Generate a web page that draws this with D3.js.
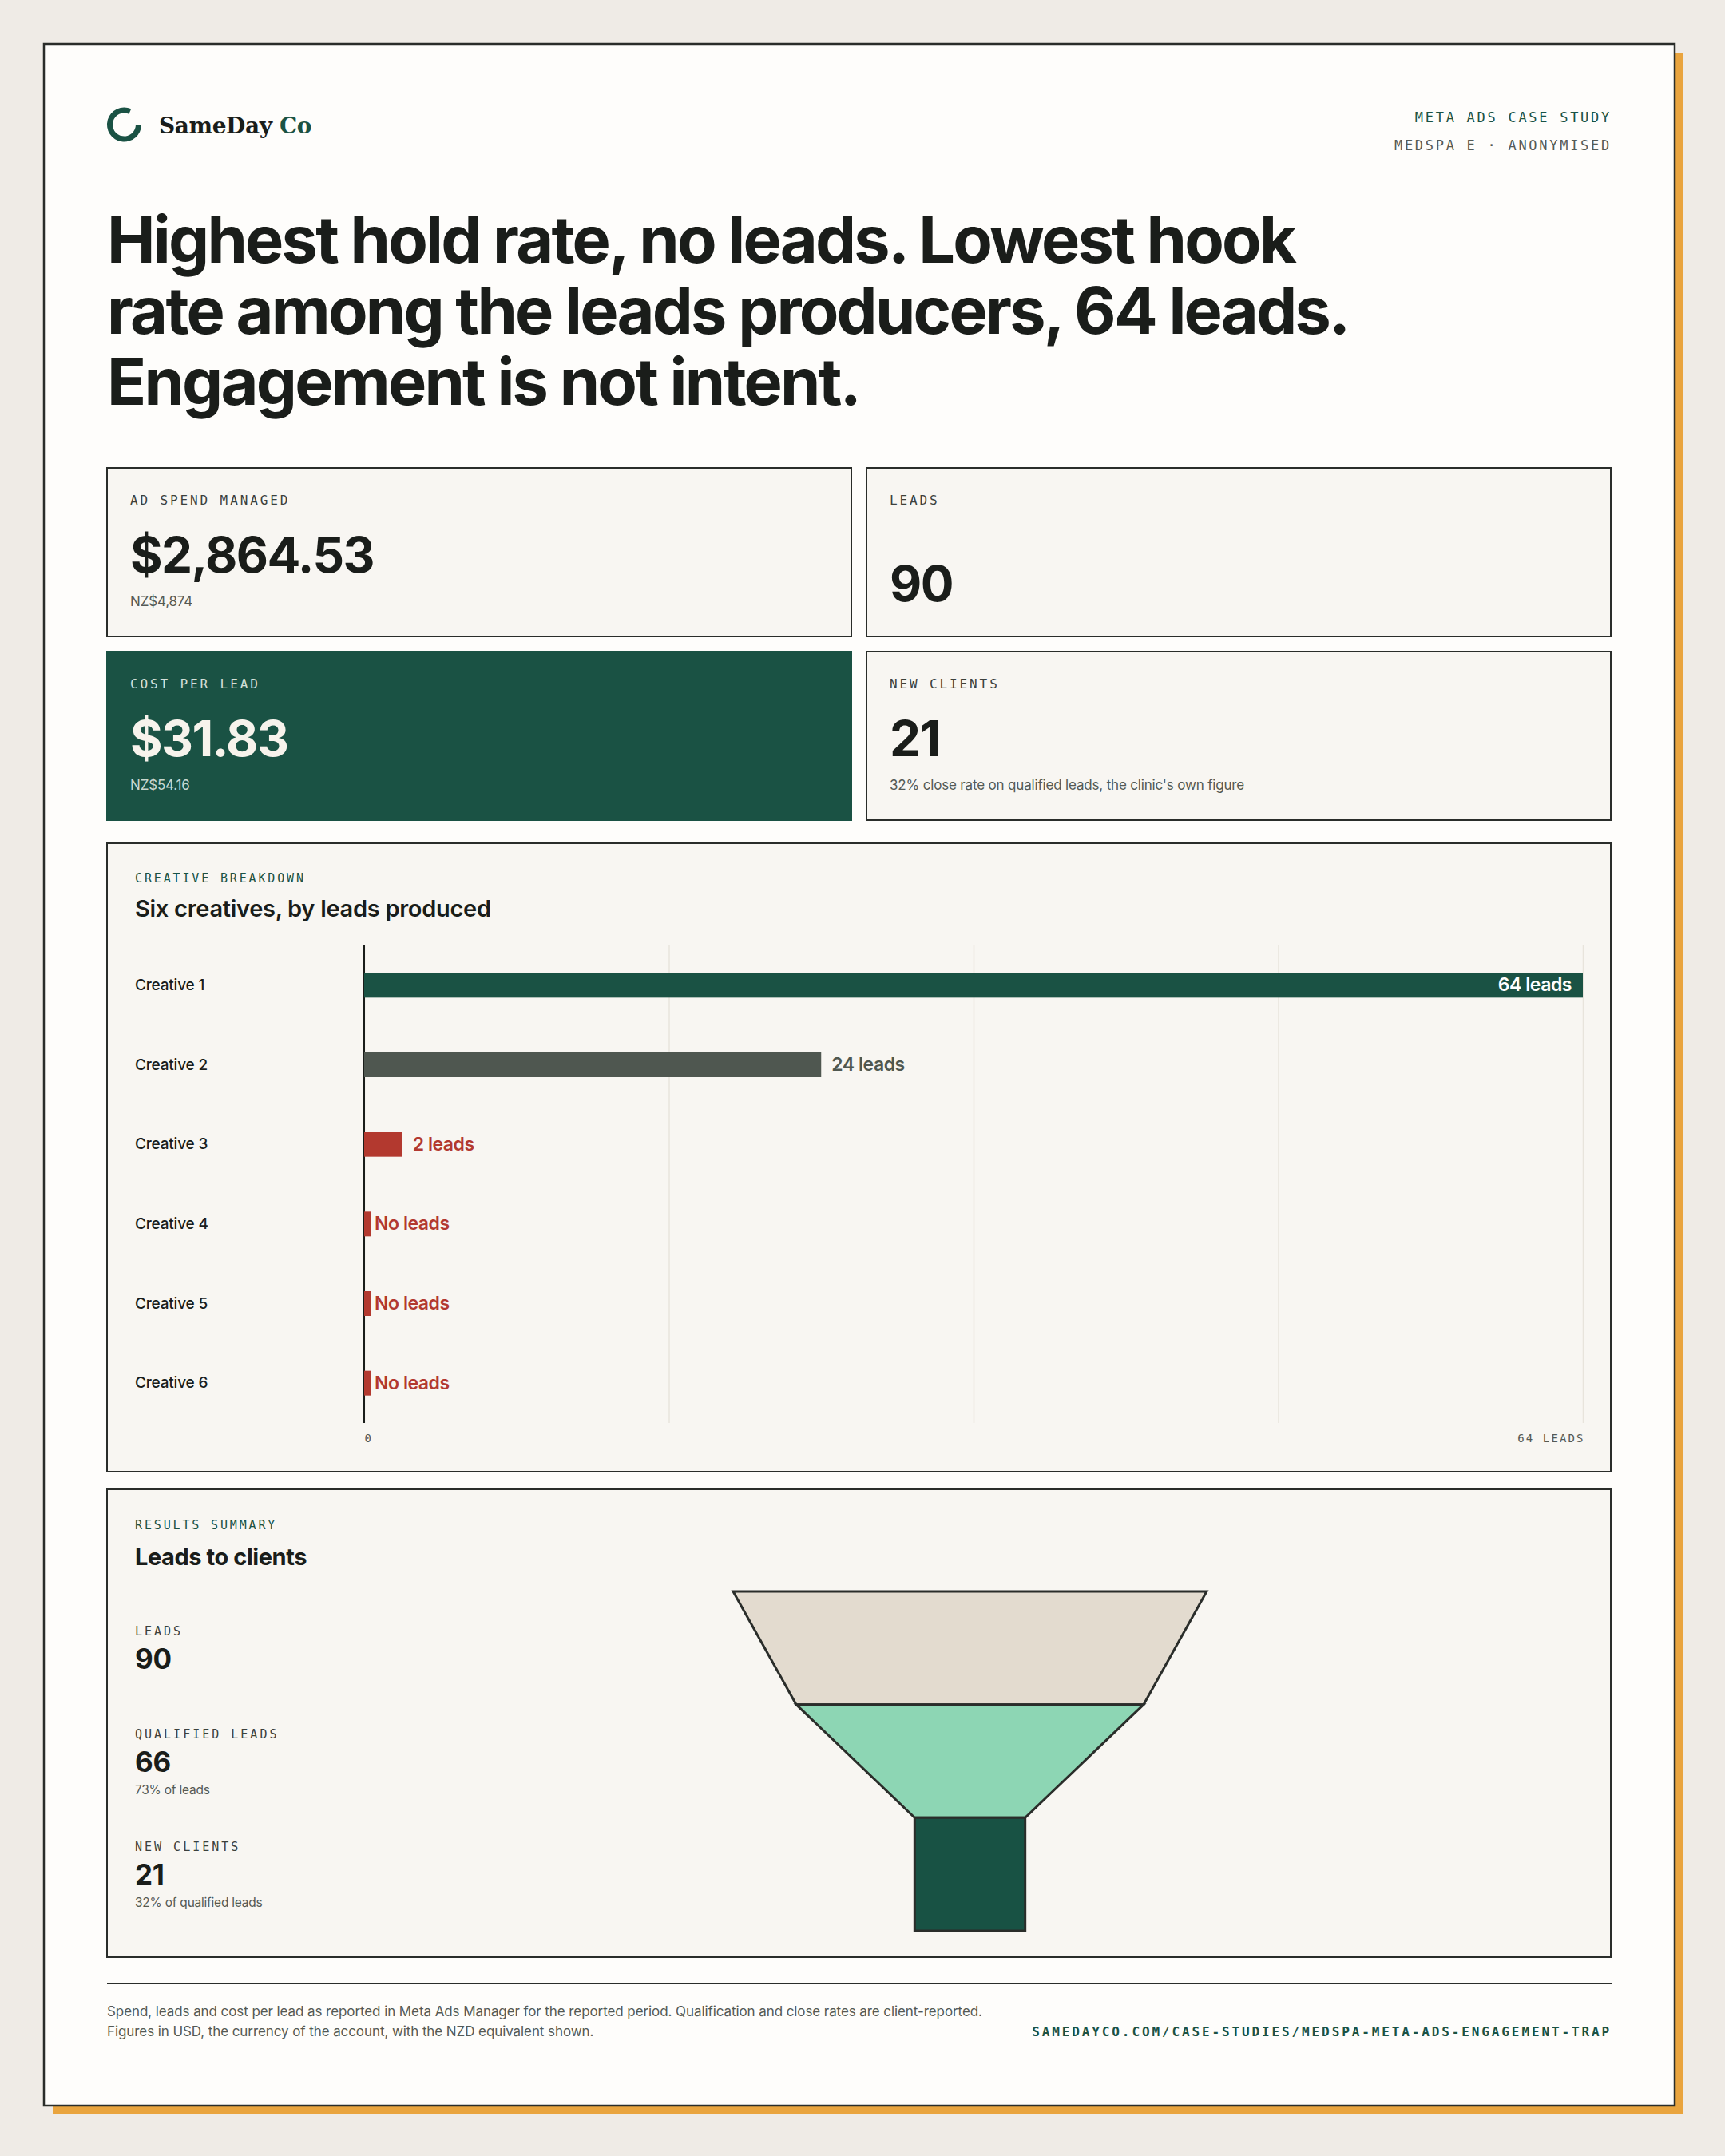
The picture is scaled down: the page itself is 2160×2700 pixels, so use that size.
<!DOCTYPE html>
<html>
<head>
<meta charset="utf-8">
<script src="https://cdn.jsdelivr.net/npm/d3@7"></script>
<style>
  body { margin: 0; background: #efebe6; }
  svg { display: block; }
</style>
</head>
<body>
<script>
// ---- данные ----
const headline = [
  "Highest hold rate, no leads. Lowest hook",
  "rate among the leads producers, 64 leads.",
  "Engagement is not intent."
];
const kpiLabels = ["AD SPEND MANAGED", "LEADS", "COST PER LEAD", "NEW CLIENTS"];
const kpiValues = ["$2,864.53", "90", "$31.83", "21"];
const kpiNotes = ["NZ$4,874", "", "NZ$54.16", "32% close rate on qualified leads, the clinic's own figure"];

const creatives = ["Creative 1", "Creative 2", "Creative 3", "Creative 4", "Creative 5", "Creative 6"];
const leads = [64, 24, 2, 0, 0, 0];
const xTicks = [0, 16, 32, 48, 64];

const stages = ["LEADS", "QUALIFIED LEADS", "NEW CLIENTS"];
const stageValues = [90, 66, 21];
const stageNotes = ["", "73% of leads", "32% of qualified leads"];

const footnote = [
  "Spend, leads and cost per lead as reported in Meta Ads Manager for the reported period. Qualification and close rates are client-reported.",
  "Figures in USD, the currency of the account, with the NZD equivalent shown."
];
const footUrl = "SAMEDAYCO.COM/CASE-STUDIES/MEDSPA-META-ADS-ENGAGEMENT-TRAP";

// ---- стили ----
const SANS = "Inter, 'Noto Sans', sans-serif";
const MONO = "'DejaVu Sans Mono', 'Liberation Mono', monospace";
const SERIF = "'DejaVu Serif', 'Liberation Serif', serif";
const INK = "#1a1d1a", LINE = "#2a2d2a", GREEN = "#1a5244", MUTED = "#555a55";
const RED = "#b3392f", GREY = "#4f5750", PANEL = "#f8f6f2";

const width = 2160, height = 2700;
let svg = d3.select("body").append("svg")
  .attr("width", width)
  .attr("height", height);

function txt(g, x, y, s, o) {
  return g.append("text")
    .attr("x", x).attr("y", y)
    .attr("text-anchor", o.anchor || "start")
    .style("font-family", o.font || SANS)
    .style("font-size", o.size + "px")
    .style("font-weight", o.weight || 400)
    .style("letter-spacing", o.ls || "0")
    .style("fill", o.fill || INK)
    .text(s);
}

// фон и карточка с тенью
svg.append("rect").attr("width", width).attr("height", height).attr("fill", "#efebe6");
svg.append("rect").attr("x", 66).attr("y", 66).attr("width", 2042).attr("height", 2582).attr("fill", "#e9a43e");
svg.append("rect").attr("x", 55).attr("y", 55).attr("width", 2042).attr("height", 2582)
  .attr("fill", "#fefdfb").attr("stroke", LINE).attr("stroke-width", 2.5);

// логотип
svg.append("path")
  .attr("transform", "translate(155.5,156)")
  .attr("d", d3.arc().innerRadius(14.5).outerRadius(21.5).startAngle(Math.PI / 2).endAngle(Math.PI * 2 + 0.42)())
  .attr("fill", GREEN);
let logo = txt(svg, 199, 167, "SameDay", { font: SERIF, size: 28, weight: 700, ls: "-0.015em" });
logo.append("tspan").style("fill", GREEN).text(" Co");

txt(svg, 2018, 153, "META ADS CASE STUDY", { font: MONO, size: 17, ls: "0.16em", fill: GREEN, anchor: "end", weight: 500 });
txt(svg, 2018, 188, "MEDSPA E · ANONYMISED", { font: MONO, size: 17, ls: "0.16em", fill: MUTED, anchor: "end" });

// заголовок
headline.forEach((line, i) => {
  txt(svg, 134, 329 + i * 89, line, { size: 81, weight: 700, ls: "-0.034em" });
});

// KPI карточки
const cardX = [134, 1085], cardY = [586, 816], cardW = 932, cardH = 211;
kpiLabels.forEach((lab, i) => {
  const x = cardX[i % 2], y = cardY[Math.floor(i / 2)];
  const dark = i === 2;
  let g = svg.append("g");
  g.append("rect").attr("x", x).attr("y", y).attr("width", cardW).attr("height", cardH)
    .attr("fill", dark ? GREEN : PANEL)
    .attr("stroke", dark ? GREEN : LINE).attr("stroke-width", 2);
  txt(g, x + 29, y + 46, lab, { font: MONO, size: 16, ls: "0.18em", fill: dark ? "#d3dfd8" : "#3c413d" });
  const hasNote = kpiNotes[i] !== "";
  txt(g, x + 29, y + (hasNote ? 131 : 167), kpiValues[i], { size: 62, weight: 700, ls: "-0.025em", fill: dark ? "#f7f3ec" : INK });
  if (hasNote) txt(g, x + 29, y + 173, kpiNotes[i], { size: 17, fill: dark ? "#c8d7cf" : MUTED, ls: "-0.01em" });
});

// ---- столбчатая диаграмма ----
let chart = svg.append("g");
chart.append("rect").attr("x", 134).attr("y", 1056).attr("width", 1883).attr("height", 787)
  .attr("fill", PANEL).attr("stroke", LINE).attr("stroke-width", 2);
txt(chart, 169, 1105, "CREATIVE BREAKDOWN", { font: MONO, size: 15, ls: "0.19em", fill: GREEN, weight: 500 });
txt(chart, 169, 1148, "Six creatives, by leads produced", { size: 29, weight: 600, ls: "-0.01em" });

const x = d3.scaleLinear().domain([0, d3.max(xTicks)]).range([456, 1982]);
const y = d3.scaleBand().domain(creatives).range([1184, 1782]).padding(0);
const barH = 31;
const barColor = (d, i) => i === 0 ? GREEN : i === 1 ? GREY : RED;

// сетка и подписи оси
let axis = chart.append("g")
  .attr("transform", `translate(0,${y.range()[1]})`)
  .call(d3.axisBottom(x).tickValues(xTicks)
    .tickSize(-(y.range()[1] - y.range()[0]))
    .tickPadding(14)
    .tickFormat(d => d === 0 ? "0" : d === d3.max(xTicks) ? "64 LEADS" : ""));
axis.select(".domain").remove();
axis.selectAll(".tick line").attr("stroke", "#e8e4dc").attr("stroke-width", 1.5);
axis.selectAll(".tick text")
  .style("font-family", MONO).style("font-size", "14px").style("letter-spacing", "0.15em")
  .attr("fill", MUTED)
  .attr("text-anchor", d => d === 0 ? "start" : "end")
  .attr("dx", d => d === 0 ? 0 : 2);

chart.append("line").attr("x1", x(0)).attr("x2", x(0))
  .attr("y1", y.range()[0]).attr("y2", y.range()[1])
  .attr("stroke", INK).attr("stroke-width", 2);

const rows = creatives.map((c, i) => ({ name: c, v: leads[i], i: i }));
const minW = 8;

chart.selectAll(".cat").data(rows).join("text")
  .attr("x", 169).attr("y", d => y(d.name) + y.bandwidth() / 2)
  .attr("dy", "0.33em")
  .style("font-family", SANS).style("font-size", "19px").style("font-weight", 500)
  .style("letter-spacing", "-0.01em").attr("fill", INK)
  .text(d => d.name);

chart.selectAll(".bar").data(rows).join("rect")
  .attr("x", x(0))
  .attr("y", d => y(d.name) + (y.bandwidth() - barH) / 2)
  .attr("width", d => Math.max(x(d.v) - x(0), minW))
  .attr("height", barH)
  .attr("fill", d => barColor(d, d.i));

const vmax = d3.max(leads);
chart.selectAll(".val").data(rows).join("text")
  .attr("x", d => d.v === vmax ? x(d.v) - 14 : d.v > 0 ? x(d.v) + 13 : x(0) + minW + 5)
  .attr("y", d => y(d.name) + y.bandwidth() / 2)
  .attr("dy", "0.33em")
  .attr("text-anchor", d => d.v === vmax ? "end" : "start")
  .style("font-family", SANS).style("font-size", "23px").style("font-weight", 600)
  .style("letter-spacing", "-0.02em")
  .attr("fill", d => d.v === vmax ? "#ffffff" : d.i === 1 ? GREY : RED)
  .text(d => d.v > 0 ? `${d.v} leads` : "No leads");

// ---- воронка ----
let funnel = svg.append("g");
funnel.append("rect").attr("x", 134).attr("y", 1865).attr("width", 1883).attr("height", 586)
  .attr("fill", PANEL).attr("stroke", LINE).attr("stroke-width", 2);
txt(funnel, 169, 1915, "RESULTS SUMMARY", { font: MONO, size: 15, ls: "0.19em", fill: GREEN, weight: 500 });
txt(funnel, 169, 1960, "Leads to clients", { size: 29, weight: 650, ls: "-0.015em" });

const cx = 1214.5;
const fw = d3.scaleLinear().domain([0, d3.max(stageValues)]).range([0, 593]);
const fy = d3.scaleBand().domain(stages).range([1993, 2418]).padding(0);
const stageFill = ["#e3dbcf", "#8dd6b4", "#185244"];

stages.forEach((s, i) => {
  const top = fy(s), bot = top + fy.bandwidth();
  const wTop = fw(stageValues[i]);
  const wBot = i < stages.length - 1 ? fw(stageValues[i + 1]) : wTop;
  const pts = [[cx - wTop / 2, top], [cx + wTop / 2, top], [cx + wBot / 2, bot], [cx - wBot / 2, bot]];
  funnel.append("path")
    .attr("d", d3.line()(pts) + "Z")
    .attr("fill", stageFill[i])
    .attr("stroke", LINE).attr("stroke-width", 3).attr("stroke-linejoin", "miter");

  const yc = top + fy.bandwidth() / 2;
  const hasNote = stageNotes[i] !== "";
  txt(funnel, 169, yc + (hasNote ? -29 : -16), s, { font: MONO, size: 15, ls: "0.2em", fill: "#3c413d" });
  txt(funnel, 169, yc + (hasNote ? 13 : 26), stageValues[i], { size: 35, weight: 700, ls: "-0.01em" });
  if (hasNote) txt(funnel, 169, yc + 41, stageNotes[i], { size: 15.5, fill: MUTED, ls: "-0.015em" });
});

// ---- подвал ----
svg.append("line").attr("x1", 134).attr("x2", 2018).attr("y1", 2484).attr("y2", 2484)
  .attr("stroke", LINE).attr("stroke-width", 2);
footnote.forEach((s, i) => {
  txt(svg, 134, 2525 + i * 25, s, { size: 17, fill: MUTED, ls: "-0.005em" });
});
txt(svg, 2018, 2550, footUrl, { font: MONO, size: 16, ls: "0.18em", fill: GREEN, anchor: "end", weight: 700 });
</script>
</body>
</html>
